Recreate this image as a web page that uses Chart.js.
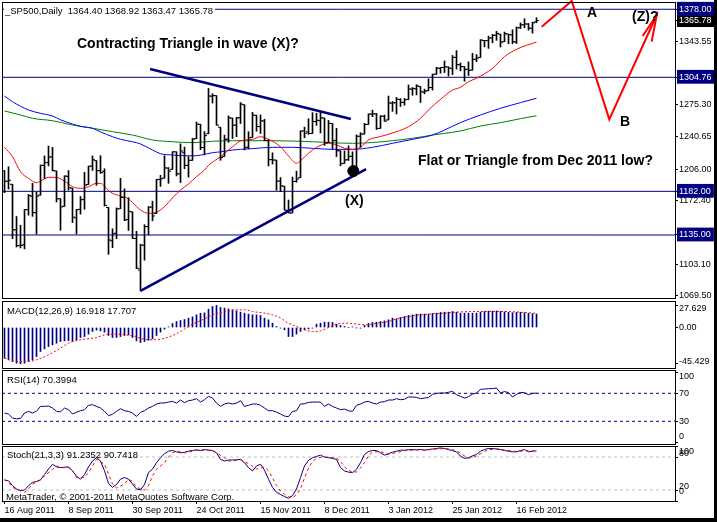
<!DOCTYPE html>
<html><head><meta charset="utf-8">
<script src="https://cdn.jsdelivr.net/npm/chart.js@4"></script>
<style>
html,body{margin:0;padding:0;background:#fff;}
#wrap{position:relative;width:717px;height:522px;background:#fff;overflow:hidden}
canvas{position:absolute;left:0;top:0;}
.fr{position:absolute;background:#000;z-index:5}
</style></head><body>
<div id="wrap">
<canvas id="cMain" width="717" height="522"></canvas>
<canvas id="cMacd" width="717" height="522"></canvas>
<canvas id="cRsi" width="717" height="522"></canvas>
<canvas id="cSto" width="717" height="522"></canvas>
<div class="fr" style="left:714px;top:0;width:3px;height:522px"></div>
<div class="fr" style="left:0;top:518px;width:717px;height:4px"></div>
</div>
<script>
// ---------- DATA ----------
const xTickIdx = [0,16,32,48,64,80,96,112,128];
const xTickLabels = ['16 Aug 2011','8 Sep 2011','30 Sep 2011','24 Oct 2011','15 Nov 2011','8 Dec 2011','3 Jan 2012','25 Jan 2012','16 Feb 2012'];

const open = [1204.2,1192.9,1189.6,1140.5,1123.6,1124.4,1162.2,1176.7,1158.9,1177.9,
1209.8,1213.0,1219.1,1203.9,1174.0,1165.9,1198.0,1185.4,1153.5,1162.6,
1173.3,1189.4,1209.2,1215.0,1204.5,1203.6,1164.6,1128.8,1136.9,1163.3,
1175.4,1151.7,1159.9,1131.2,1097.4,1124.0,1144.1,1165.0,1158.2,1194.6,
1196.2,1207.0,1205.7,1224.5,1200.8,1223.5,1209.9,1215.4,1238.7,1254.2,
1229.2,1244.0,1284.4,1285.0,1251.0,1219.6,1238.3,1260.8,1253.2,1261.1,
1275.2,1229.6,1240.1,1263.9,1251.7,1257.8,1236.6,1216.2,1215.6,1193.0,
1187.5,1161.4,1158.7,1192.6,1196.7,1246.9,1246.0,1244.3,1257.2,1258.1,
1260.9,1234.5,1255.1,1236.8,1225.7,1212.1,1216.1,1219.7,1205.7,1241.3,
1243.7,1254.0,1265.0,1265.4,1249.8,1262.8,1258.9,1277.0,1277.3,1280.9,
1277.8,1280.8,1292.0,1292.5,1294.8,1289.0,1290.2,1293.7,1308.1,1314.5,
1315.3,1316.0,1314.4,1326.3,1318.3,1316.2,1313.5,1312.5,1324.2,1326.2,
1344.3,1344.3,1347.0,1350.0,1351.2,1343.1,1351.3,1350.5,1342.6,1358.1,
1361.2,1362.1,1357.5,1364.4];
const high = [1204.2,1208.5,1189.6,1154.9,1145.5,1162.4,1178.6,1190.7,1181.2,1210.3,
1220.1,1230.7,1229.3,1203.9,1174.0,1198.6,1204.4,1185.4,1162.5,1176.4,
1202.4,1209.1,1220.1,1215.0,1220.4,1206.3,1164.6,1141.7,1164.2,1195.9,
1184.7,1175.1,1159.9,1139.0,1125.1,1146.1,1165.6,1171.4,1194.9,1199.2,
1220.3,1207.5,1224.6,1224.5,1233.1,1229.6,1219.4,1239.0,1256.6,1254.2,
1246.3,1292.7,1287.1,1285.0,1251.0,1242.5,1263.2,1260.8,1261.7,1277.6,
1275.2,1246.2,1267.0,1263.9,1264.3,1259.6,1237.7,1223.5,1215.6,1196.8,
1187.5,1172.7,1197.4,1203.7,1247.1,1251.1,1260.1,1266.7,1266.0,1267.1,
1260.9,1258.3,1255.1,1249.9,1225.7,1225.6,1231.0,1224.6,1242.8,1245.1,
1255.2,1265.4,1269.4,1265.9,1263.5,1264.1,1284.6,1278.7,1283.1,1281.8,
1282.0,1296.5,1293.8,1296.8,1294.8,1292.0,1303.0,1308.1,1315.5,1315.4,
1322.3,1316.0,1328.3,1333.5,1320.1,1316.2,1321.4,1330.5,1329.2,1345.3,
1344.4,1349.2,1351.0,1354.3,1351.2,1353.4,1351.3,1355.9,1359.0,1363.4,
1367.8,1362.7,1364.2,1368.9];
const low = [1180.5,1184.5,1131.0,1122.1,1121.1,1120.0,1156.3,1155.1,1135.9,1177.9,
1195.8,1209.4,1203.9,1170.6,1140.1,1165.9,1183.3,1148.4,1136.1,1157.4,
1162.7,1189.4,1204.5,1188.4,1201.3,1166.2,1114.2,1121.4,1131.1,1163.3,
1150.4,1139.9,1131.3,1098.9,1074.8,1107.9,1135.0,1150.3,1158.2,1187.3,
1196.2,1190.6,1205.7,1198.6,1191.5,1206.3,1197.3,1215.4,1238.7,1226.8,
1221.1,1244.0,1277.0,1253.2,1215.4,1219.6,1234.8,1238.9,1240.8,1255.0,
1226.6,1227.7,1240.1,1246.7,1244.3,1236.4,1209.4,1211.4,1183.2,1181.7,
1161.8,1158.7,1158.7,1191.8,1196.7,1239.7,1243.4,1244.3,1253.0,1244.8,
1231.5,1234.5,1227.3,1219.4,1209.5,1212.1,1215.2,1202.4,1205.7,1229.5,
1243.7,1254.0,1262.3,1248.6,1249.8,1257.5,1258.9,1268.1,1265.3,1273.3,
1274.6,1280.8,1285.4,1285.8,1277.6,1287.0,1290.2,1291.0,1308.1,1309.2,
1309.9,1306.1,1307.7,1313.6,1311.7,1300.5,1306.7,1312.5,1321.6,1326.2,
1337.5,1335.9,1341.9,1344.6,1337.4,1343.1,1340.8,1340.8,1341.2,1357.2,
1358.1,1355.5,1352.3,1363.5];
const close = [1192.8,1193.9,1140.7,1123.5,1123.8,1162.4,1177.6,1159.3,1176.8,1210.1,
1212.9,1218.9,1204.4,1174.0,1165.2,1198.6,1185.9,1154.2,1162.3,1172.9,
1188.7,1209.1,1216.0,1204.1,1202.1,1166.8,1129.6,1136.4,1163.0,1175.4,
1151.1,1160.4,1131.4,1099.2,1124.0,1144.0,1165.0,1155.5,1194.9,1195.5,
1207.3,1203.7,1224.6,1200.9,1225.4,1209.9,1215.4,1238.3,1254.2,1229.1,
1242.0,1284.6,1285.1,1253.3,1218.3,1237.9,1261.2,1253.2,1261.1,1275.9,
1229.1,1239.7,1263.9,1251.8,1257.8,1236.9,1216.1,1215.7,1193.0,1188.0,
1161.8,1158.7,1192.6,1195.2,1247.0,1244.6,1244.3,1257.1,1258.5,1261.0,
1234.4,1255.2,1236.5,1225.7,1211.8,1215.8,1219.7,1205.4,1241.3,1243.7,
1254.0,1265.3,1265.4,1249.6,1263.0,1257.6,1277.1,1277.3,1281.1,1277.8,
1280.7,1292.1,1292.5,1295.5,1289.1,1290.0,1293.7,1308.0,1314.5,1315.4,
1316.0,1314.7,1326.1,1318.4,1316.3,1313.0,1312.4,1324.1,1325.5,1344.9,
1344.3,1347.1,1350.0,1352.0,1342.6,1351.8,1350.5,1343.2,1358.0,1361.2,
1362.2,1357.7,1363.5,1365.8];

const redMaIdx = [0,2,4,6,8,9,11,13,15,16,17,19,21,23,24,26,27,29,31,32,34,36,38,40,42,44,46,48,50,51,54,57,59,62,64,66,69,71,73,74,76,78,81,83,85,87,89,91,94,98,101,104,106,109,112,114,116,118,122,125,128,133];
const redMaVal = [1229.4,1219.3,1203.1,1196,1191.3,1193,1197.1,1197,1193,1190,1187,1185.2,1187,1190.6,1190.6,1183,1179.9,1177,1174,1170,1161.9,1158.4,1159.5,1165.5,1175,1183.4,1190,1197.8,1205,1210,1219.3,1230,1236.2,1238,1240.8,1238,1230,1220,1212.2,1215,1223,1229.4,1233.7,1231.9,1228.3,1227.2,1229.4,1237.3,1241,1246.2,1251.6,1260.6,1269.6,1281,1291,1294,1300,1303.7,1314.4,1327,1334.9,1342.8];
const blueMaIdx = [0,2,6,9,12,14,17,19,22,24,27,29,32,34,37,39,42,44,47,49,52,54,57,59,62,67,72,77,82,87,92,97,102,107,110,114,119,124,129,133];
const blueMaVal = [1284.6,1278.5,1269.6,1266,1263.1,1259,1254.5,1252,1249.9,1246,1240.8,1238,1235.4,1233,1226.5,1222.5,1221.1,1220.5,1220.2,1221,1223.6,1224.5,1226.5,1227.2,1228,1229.4,1229.4,1228.3,1227.2,1227.2,1229.4,1233.7,1238,1242.6,1248,1256,1264.2,1271.4,1277.5,1282.2];
const greenMaIdx = [0,4,7,12,17,22,27,32,37,42,47,52,57,67,77,87,92,97,102,107,110,114,119,124,129,133];
const greenMaVal = [1268.5,1264.2,1260.6,1258,1253.4,1249.9,1246.2,1242.6,1237.3,1235.4,1234.4,1235.9,1236.5,1236.5,1235.4,1233.7,1234.5,1236.5,1239.1,1242.6,1244.4,1247,1252.3,1255.9,1260.2,1263.4];

const levelPrices = [1378.00, 1304.76, 1182.00, 1135.00];
const bidPrice = 1365.78;
const priceTicks = [1069.50,1103.10,1135.00,1172.40,1182.00,1206.00,1240.65,1275.30,1304.76,1343.55,1365.78,1378.00];

const upperTrendIdx = [36.4, 86.6];   const upperTrendVal = [1313.7, 1259.9];
const lowerTrendIdx = [34, 90.4];     const lowerTrendVal = [1074.8, 1206.0];
const dotIdx = [87.2];                const dotVal = [1203.9];
const pathIdx = [134.3, 141.8, 151.2, 163.05];  const pathVal = [1359.2, 1387.0, 1259.5, 1371.8];
const arrowIdx = [159.55, 163.05, 161.8];        const arrowVal = [1349.2, 1371.8, 1343.1];

const macdHist = [-38.3,-40.4,-42.5,-44.6,-45.4,-44.6,-42.5,-40.4,-36.3,-30.0,
-26.7,-23.8,-21.7,-19.6,-17.5,-16.7,-16.3,-17.5,-15.4,-12.5,
-11.3,-8.3,-5.0,-3.3,-4.2,-5.8,-10.0,-12.5,-12.5,-11.3,
-10.0,-9.2,-12.5,-16.7,-18.8,-17.5,-15.8,-14.2,-10.0,-5.8,
-2.1,0.8,5.0,7.5,8.8,10.0,11.7,13.3,15.8,17.9,
18.3,22.9,26.3,27.6,25.0,24.2,23.3,22.1,20.8,19.2,
17.9,16.7,15.8,15.8,15.0,11.7,9.6,5.4,1.3,-0.8,
-2.9,-11.3,-11.3,-8.3,-5.0,-2.9,-1.7,-0.8,4.2,5.4,
6.7,6.7,6.3,4.2,2.5,1.3,0.0,0.8,-0.4,-0.8,
2.5,5.0,6.3,6.7,7.5,8.3,9.6,11.7,10.8,12.5,
13.8,15.0,15.8,16.7,16.7,16.7,16.7,17.5,17.9,18.8,
19.2,19.2,20.0,19.2,17.9,17.9,17.9,17.9,17.9,19.2,
20.0,20.5,20.5,20.8,20.0,19.5,19.0,18.5,18.8,19.0,
18.5,17.8,17.2,16.9];
const macdSigIdx = [0,3,6,8,11,14,16,19,23,25,28,30,32,34,36,39,42,44,45,47,50,52,55,58,60,62,65,67,69,71,73,75,77,79,81,83,86,88,91,93,96,98,101,104,107,110,113,118,125,133];
const macdSigVal = [-38.3,-42.5,-42.5,-40.4,-34.2,-25.8,-19.6,-15.4,-12.5,-9.2,-8.3,-9.2,-10.4,-13.3,-15.4,-14.6,-10,-5,-2,4.2,10.8,15.8,19.2,22.1,22.1,20,17.9,15.8,11.7,5.4,1.3,-2.9,-5,-4.2,0,4.2,5.4,4.2,3.3,5.4,7.5,10.8,13.8,15.8,17.1,17.9,19.2,20,20,17.7];
const macdTicks = [-45.429, 0, 27.629];

const rsi = [41.8,40.4,34.7,33.5,34.0,41.8,44.2,41.8,44.5,51.3,
51.3,51.8,49.0,44.2,43.5,49.0,46.6,40.4,43.0,45.1,
46.5,52.8,53.7,51.3,49.0,44.2,38.0,40.0,44.2,48.0,
45.1,44.2,41.8,37.0,42.8,45.1,49.0,51.3,54.7,56.1,
56.1,57.5,58.5,56.0,60.4,56.6,59.4,60.4,62.3,57.5,
60.9,65.6,63.2,56.1,51.3,54.7,56.1,54.7,56.0,59.4,
51.3,52.8,54.7,54.7,52.8,49.0,45.1,45.1,43.2,40.4,
37.5,36.6,44.2,45.1,54.7,55.1,57.0,57.5,57.5,57.5,
51.3,54.7,51.3,49.0,46.6,47.5,45.1,44.2,52.8,54.7,
57.5,58.5,56.1,54.7,57.5,58.0,60.4,60.4,62.3,60.9,
61.5,64.7,64.7,64.2,62.3,63.2,64.0,68.5,69.9,70.4,
70.4,71.5,72.8,68.0,65.6,63.2,65.1,68.9,70.5,75.6,
76.1,76.6,76.8,77.5,70.4,72.5,71.0,64.7,68.5,71.3,
70.8,68.0,69.9,70.4];
const rsiLevels = [30, 70];
const rsiTicks = [0, 30, 70, 100];

const stochK = [37.9,36.8,27.8,21.8,18.8,20.0,27.8,33.8,35.5,38.5,
48.0,58.0,66.7,62.0,60.7,61.5,61.9,55.0,45.0,39.7,
48.0,62.0,72.7,78.7,72.7,55.0,32.0,24.8,30.0,39.7,
42.7,39.7,30.8,21.8,20.0,30.0,51.7,58.0,69.7,78.7,
85.8,90.6,91.8,89.4,87.6,88.5,90.6,91.8,93.0,91.8,
93.6,92.5,91.8,87.6,75.7,72.7,74.5,74.5,75.0,75.7,
69.7,60.7,54.7,63.7,66.7,56.0,39.7,24.8,15.8,12.0,
8.0,5.0,9.8,21.8,42.7,63.7,73.9,78.7,81.0,83.4,
79.8,78.7,77.5,75.7,60.7,54.7,52.5,51.7,57.7,69.7,
84.6,90.0,91.8,91.8,87.6,83.4,86.0,88.8,90.6,92.4,
92.4,93.2,93.6,93.0,93.6,92.4,93.6,94.5,95.4,96.6,
95.4,93.6,91.5,89.4,81.6,77.5,78.7,82.0,84.6,90.6,
93.6,95.4,95.4,94.5,93.6,91.8,90.5,89.4,89.4,91.8,
93.6,89.4,90.6,91.2];
const stochDIdx = [0,1,2,4,5,6,7,9,10,12,13,14,16,17,18,20,21,22,23,25,26,27,28,30,31,32,33,35,36,37,38,40,41,42,43,45,46,47,48,50,51,52,53,55,56,57,58,
59,61,63,64,65,66,67,68,69,70,71,72,73,74,75,76,77,78,80,82,83,84,85,86,87,88,89,90,91,92,94,95,96,98,100,103,106,108,110,112,113,114,115,116,117,118,119,120,121,123,125,127,129,130,131,132,133];
const stochDVal = [39.7,33.8,24.8,18.8,15.8,21.8,30.8,38,45.7,57.7,63.7,60.7,60.7,54.7,42.7,42.7,51.7,63.7,75.7,66.7,48.7,30.8,23.6,30.8,39.7,35.6,24.8,20,27.8,45.7,57.7,69.7,79.8,87.6,90.6,87.6,88.8,90.6,92.4,91.8,92.4,91.8,87.6,78.7,72.7,72.7,73.9,
75,68,58,60,62,55,42,28,18,12,8,6,11,22,42,60,72,78,80,79,78,72,62,56,52,53,60,70,82,89,90,87,85,88,91.5,93,93,94.5,95.5,93.5,91,87,82,78,79,82,86,90,93,95,93,90.5,90,91.5,91.5,91,90.7];
const stochLevels = [20, 80];
const stochTicks = [0, 20, 80, 100];

// ---------- helpers ----------
const FONT = '"Liberation Sans", Arial, sans-serif';
Chart.defaults.font.family = FONT;
Chart.defaults.color = '#000';
const X_MIN = -0.625, X_MAX = 167.625;
const barIdx = close.map((_, i) => i);
const pts = (ix, vs) => ix.map((x, k) => ({ x, y: vs[k] }));
const hline = v => [{ x: X_MIN, y: v }, { x: X_MAX, y: v }];

// keep the edge labels inside their panel, the way the terminal does
function clampLabels(ax, insetTop, insetBot, shift) {
  const proto = Object.getPrototypeOf(ax);
  ax._computeLabelItems = function (ca) {
    const items = proto._computeLabelItems.call(this, ca);
    items.forEach(it => {
      const tr = (it.options && it.options.translation) || it.translation;
      if (!tr) return;
      let y = tr[1] + shift;
      y = Math.max(this.top + insetTop, Math.min(this.bottom - insetBot, y));
      tr[1] = y;
    });
    return items;
  };
}

function yAxis(min, max, tickVals, fmt, special, clamp) {
  special = special || {};
  return {
    type: 'linear', position: 'right', min, max, bounds: 'data',
    afterBuildTicks: ax => { ax.ticks = tickVals.map(v => ({ value: v })); },
    afterFit: ax => {
      ax.width = 42; ax.paddingTop = 0; ax.paddingBottom = 0;
      if (clamp) clampLabels(ax, clamp[0], clamp[1], clamp[2]);
    },
    grid: { drawOnChartArea: false, drawTicks: true, tickLength: 3, color: '#000', lineWidth: 1 },
    border: { display: false },
    ticks: {
      autoSkip: false, padding: 1, font: { size: 9 },
      color: c => special[c.tick.value] ? '#fff' : '#000',
      showLabelBackdrop: c => !!special[c.tick.value],
      backdropColor: c => special[c.tick.value] || 'rgba(0,0,0,0)',
      backdropPadding: { top: 2, bottom: 1, left: 2, right: 3 },
      callback: fmt
    }
  };
}
const hiddenX = { type: 'linear', display: false, min: X_MIN, max: X_MAX, offset: false };

const framePlugin = {
  id: 'frame',
  afterDatasetsDraw(chart, args, opts) {
    const { ctx, chartArea: a } = chart;
    ctx.save();
    ctx.strokeStyle = '#000'; ctx.lineWidth = 1;
    ctx.strokeRect(a.left + 0.5, a.top + 0.5, a.right - a.left, a.bottom - a.top);
    (opts.texts || []).forEach(t => {
      ctx.font = t.font;
      ctx.textBaseline = t.base || 'middle';
      ctx.textAlign = 'left';
      if (t.bg) {
        const w = ctx.measureText(t.t).width;
        ctx.fillStyle = t.bg;
        ctx.fillRect(t.x - 1, t.y - 6, w + 3, 12);
      }
      ctx.fillStyle = t.color || '#000';
      ctx.fillText(t.t, t.x, t.y);
    });
    ctx.restore();
  }
};
const baseOpts = (padBottom, padTop, scales, texts) => ({
  responsive: false, animation: false, events: [], devicePixelRatio: 1,
  layout: { autoPadding: false, padding: { left: 2, top: padTop, right: 0, bottom: padBottom } },
  plugins: { legend: { display: false }, tooltip: { enabled: false }, frame: { texts } },
  scales
});
const small = '9.5px ' + FONT;
const bold = 'bold 14px ' + FONT;

// ---------- MAIN PRICE CHART ----------
const special = { 1378: '#000080', 1304.76: '#000080', 1182: '#000080', 1135: '#000080' };
special[bidPrice] = '#000000';
const mainDatasets = [
  { type: 'line', data: pts(arrowIdx, arrowVal), borderColor: '#ff0000', borderWidth: 2, pointRadius: 0, clip: false },
  { type: 'line', data: pts(pathIdx, pathVal), borderColor: '#ff0000', borderWidth: 2, pointRadius: 0, clip: false },
  { type: 'line', data: pts(dotIdx, dotVal), showLine: false, pointRadius: 5.5, pointBackgroundColor: '#000', pointBorderColor: '#000', pointBorderWidth: 1 },
  { type: 'line', data: pts(upperTrendIdx, upperTrendVal), borderColor: '#000080', borderWidth: 2.5, pointRadius: 0 },
  { type: 'line', data: pts(lowerTrendIdx, lowerTrendVal), borderColor: '#000080', borderWidth: 2.5, pointRadius: 0 },
  { type: 'line', data: barIdx.map(i => ({ x: i, y: open[i] })), showLine: false, pointStyle: 'dash', pointRadius: 2.5, pointRotation: 180, pointBorderColor: '#000', pointBorderWidth: 1 },
  { type: 'line', data: barIdx.map(i => ({ x: i, y: close[i] })), showLine: false, pointStyle: 'dash', pointRadius: 2.5, pointRotation: 0, pointBorderColor: '#000', pointBorderWidth: 1 },
  { type: 'bar', data: barIdx.map(i => ({ x: i, y: [low[i], high[i]] })), backgroundColor: '#000', borderWidth: 0, barThickness: 1 },
  { type: 'line', data: pts(redMaIdx, redMaVal), borderColor: '#ff0000', borderWidth: 1, pointRadius: 0, cubicInterpolationMode: 'monotone' },
  { type: 'line', data: pts(blueMaIdx, blueMaVal), borderColor: '#0000ff', borderWidth: 1, pointRadius: 0, cubicInterpolationMode: 'monotone' },
  { type: 'line', data: pts(greenMaIdx, greenMaVal), borderColor: '#008000', borderWidth: 1, pointRadius: 0, cubicInterpolationMode: 'monotone' },
  ...levelPrices.map(v => ({ type: 'line', data: hline(v), borderColor: '#000080', borderWidth: 1, pointRadius: 0 }))
];
new Chart(document.getElementById('cMain'), {
  type: 'line',
  data: { datasets: mainDatasets },
  options: baseOpts(224, 2, {
    x: hiddenX,
    y: yAxis(1067.18, 1385.82, priceTicks, v => v.toFixed(2), special, [5.5, 2, 0])
  }, [
    { t: '_SP500,Daily  1364.40 1368.92 1363.47 1365.78', x: 5, y: 11, font: small, bg: '#fff' },
    { t: 'Contracting Triangle in wave (X)?', x: 77, y: 47.5, font: bold, base: 'alphabetic' },
    { t: 'Flat or Triangle from Dec 2011 low?', x: 418, y: 165, font: bold, base: 'alphabetic' },
    { t: '(X)', x: 345, y: 205, font: bold, base: 'alphabetic' },
    { t: 'A', x: 587, y: 17, font: bold, base: 'alphabetic' },
    { t: 'B', x: 620, y: 126, font: bold, base: 'alphabetic' },
    { t: '(Z)?', x: 632, y: 21, font: bold, base: 'alphabetic' }
  ]),
  plugins: [framePlugin]
});

// ---------- MACD ----------
new Chart(document.getElementById('cMacd'), {
  type: 'line',
  data: { datasets: [
    { type: 'line', data: pts(macdSigIdx, macdSigVal), borderColor: '#ff0000', borderWidth: 1, borderDash: [2, 2], pointRadius: 0, cubicInterpolationMode: 'monotone' },
    { type: 'bar', data: barIdx.map(i => ({ x: i, y: macdHist[i] })), backgroundColor: '#000080', borderWidth: 0, barThickness: 1 }
  ] },
  options: baseOpts(154, 301, {
    x: hiddenX,
    y: yAxis(-50.625, 33.125, macdTicks, v => v === 0 ? '0.00' : v.toFixed(3), null, [8, 6.5, 0])
  }, [ { t: 'MACD(12,26,9) 16.918 17.707', x: 7, y: 311.5, font: small } ]),
  plugins: [framePlugin]
});

// ---------- RSI ----------
new Chart(document.getElementById('cRsi'), {
  type: 'line',
  data: { datasets: [
    { data: barIdx.map(i => ({ x: i, y: rsi[i] })), borderColor: '#000080', borderWidth: 1, pointRadius: 0 },
    ...rsiLevels.map(v => ({ data: hline(v), borderColor: '#000080', borderWidth: 1, borderDash: [3, 3], pointRadius: 0 }))
  ] },
  options: baseOpts(78, 370, {
    x: hiddenX,
    y: yAxis(-2.43, 103.29, rsiTicks, v => String(v), null, [7, 7.5, 0])
  }, [ { t: 'RSI(14) 70.3994', x: 7, y: 380.5, font: small } ]),
  plugins: [framePlugin]
});

// ---------- STOCHASTIC ----------
new Chart(document.getElementById('cSto'), {
  type: 'line',
  data: { datasets: [
    { data: pts(stochDIdx, stochDVal), borderColor: '#ff0000', borderWidth: 1, borderDash: [3, 3], pointRadius: 0 },
    { data: barIdx.map(i => ({ x: i, y: stochK[i] })), borderColor: '#000080', borderWidth: 1, pointRadius: 0 },
    ...stochLevels.map(v => ({ data: hline(v), borderColor: '#c0c0c0', borderWidth: 1, borderDash: [3, 3], pointRadius: 0 }))
  ] },
  options: baseOpts(4, 446, {
    x: {
      type: 'linear', position: 'bottom', min: X_MIN, max: X_MAX, offset: false, bounds: 'data',
      afterBuildTicks: ax => { ax.ticks = xTickIdx.map(v => ({ value: v })); },
      afterFit: ax => { ax.height = 17; ax.paddingLeft = 0; ax.paddingRight = 0; },
      grid: { drawOnChartArea: false, drawTicks: true, tickLength: 3, color: '#000', offset: false },
      border: { display: false },
      ticks: { autoSkip: false, maxRotation: 0, minRotation: 0, align: 'start', padding: 1, font: { size: 9 }, color: '#000',
        callback: v => xTickLabels[xTickIdx.indexOf(v)] }
    },
    y: yAxis(0, 100, stochTicks, v => String(v), null, [6, 9, -3])
  }, [
    { t: 'Stoch(21,3,3) 91.2352 90.7418', x: 7, y: 455.5, font: small },
    { t: 'MetaTrader, \u00a9 2001-2011 MetaQuotes Software Corp.', x: 6, y: 497, font: small }
  ]),
  plugins: [framePlugin]
});
</script>
</body></html>
